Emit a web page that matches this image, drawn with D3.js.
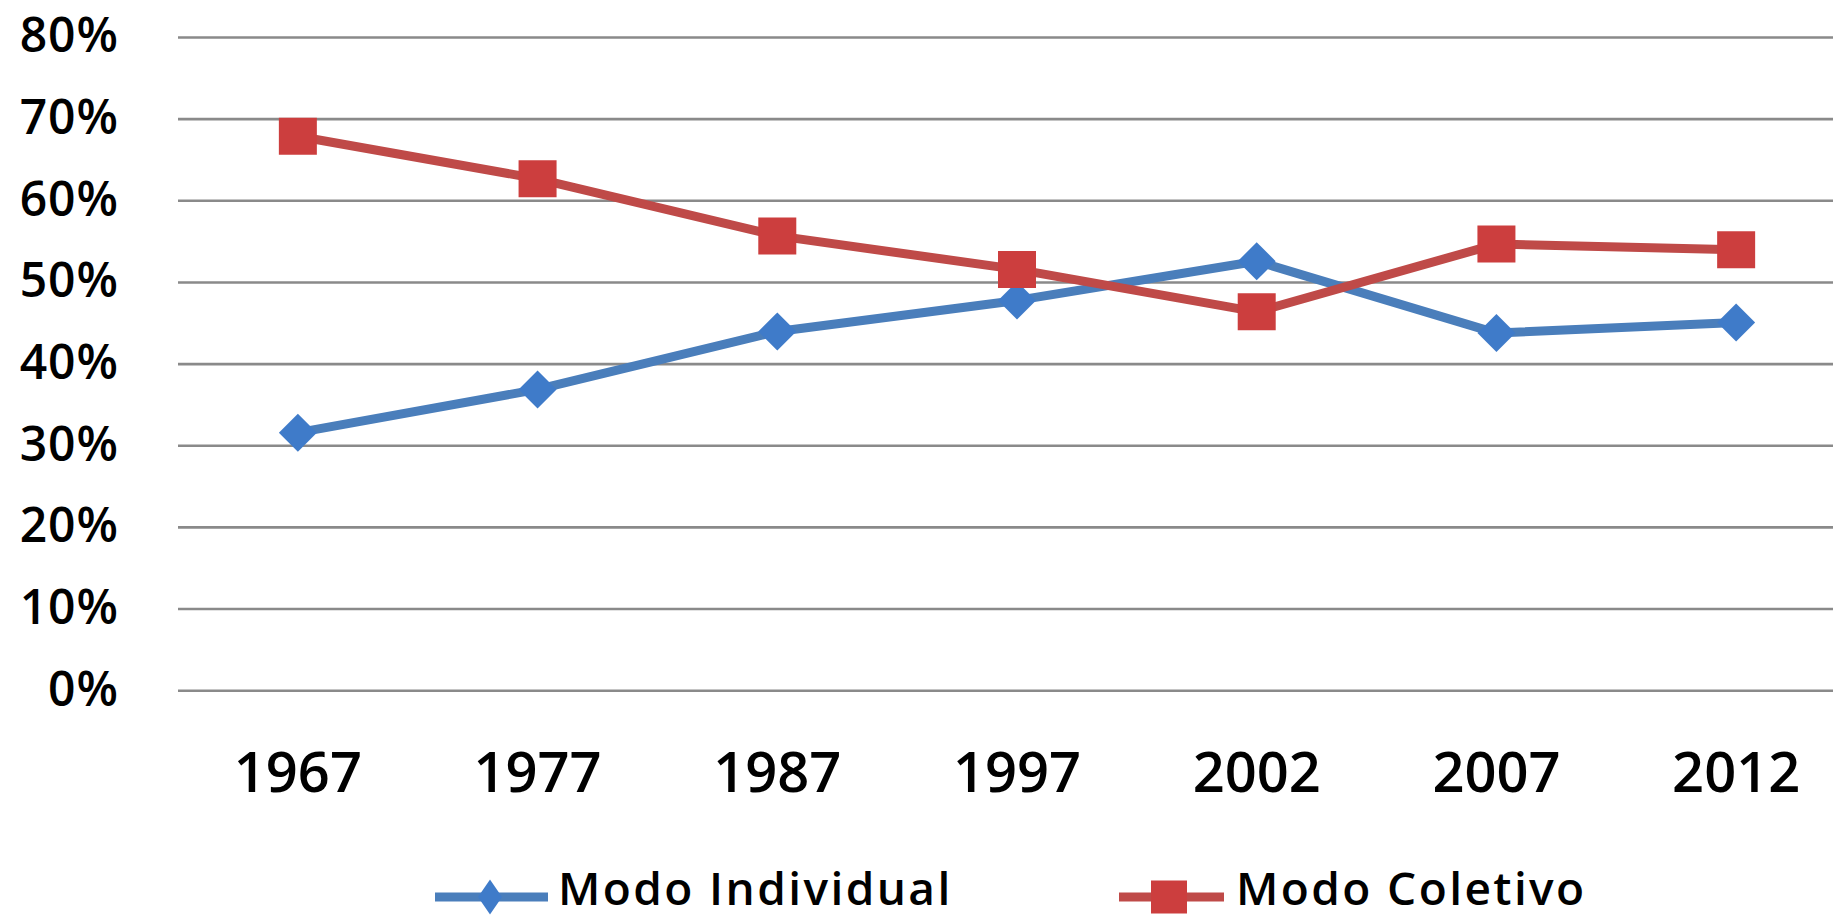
<!DOCTYPE html>
<html>
<head>
<meta charset="utf-8">
<script src="https://cdn.jsdelivr.net/npm/d3@7"></script>
<style>
  html, body { margin: 0; padding: 0; background: #fff; }
  svg { display: block; }
</style>
</head>
<body>
<svg id="chart" width="1833" height="920"></svg>
<script>
// ---- data ----
const years = ["1967", "1977", "1987", "1997", "2002", "2007", "2012"];
const modoIndividual = [31.6, 36.9, 44.0, 47.8, 52.6, 43.8, 45.1];
const modoColetivo = [67.9, 62.7, 55.7, 51.6, 46.4, 54.7, 54.0];
const yTicks = [0, 10, 20, 30, 40, 50, 60, 70, 80];
const seriesNames = ["Modo Individual", "Modo Coletivo"];

// ---- layout ----
const W = 1833, H = 920;
const svg = d3.select("#chart");
const x = d3.scaleBand().domain(years).range([178, 1856]).padding(0);
const y = d3.scaleLinear().domain([0, 80]).range([690.7, 37.5]);
const cx = d => x(d) + x.bandwidth() / 2;

const blue = "#4a7ebb", blueMark = "#3f7bc9";
const red = "#bf4a48", redMark = "#cc3e3e";

// gridlines
svg.append("g")
  .selectAll("line").data(yTicks).join("line")
  .attr("x1", 178).attr("x2", W)
  .attr("y1", d => y(d)).attr("y2", d => y(d))
  .attr("stroke", "#8a8a8a").attr("stroke-width", 2.6);

// y axis labels
const yAxis = d3.axisLeft(y).tickValues(yTicks).tickFormat(d => d + "%").tickSize(0).tickPadding(0);
const yg = svg.append("g").attr("transform", "translate(119,0)").call(yAxis);
yg.select(".domain").remove();
yg.selectAll("text")
  .attr("font-family", "'Open Sans', sans-serif")
  .attr("font-weight", 600)
  .attr("font-size", 48)
  .attr("letter-spacing", 1)
  .attr("fill", "#000")
  .attr("dy", "0.3em");

// x axis labels
const xAxis = d3.axisBottom(x).tickSize(0).tickPadding(0);
const xg = svg.append("g").attr("transform", "translate(0,792)").call(xAxis);
xg.select(".domain").remove();
xg.selectAll("text")
  .attr("font-family", "'Open Sans', sans-serif")
  .attr("font-weight", 600)
  .attr("font-size", 56)
  .attr("fill", "#000")
  .attr("dy", 0)
  .attr("y", 0);

// series
const series = [
  { name: seriesNames[0], values: modoIndividual, color: blue, mark: blueMark, shape: "diamond" },
  { name: seriesNames[1], values: modoColetivo, color: red, mark: redMark, shape: "square" }
];

function markerPath(shape, hw, hh) {
  if (shape === "diamond") {
    return `M0,${-hh}L${hw},0L0,${hh}L${-hw},0Z`;
  }
  return `M${-hw},${-hh}H${hw}V${hh}H${-hw}Z`;
}

const line = d3.line().x(d => cx(d.year)).y(d => y(d.v));

series.forEach(s => {
  const pts = years.map((yr, i) => ({ year: yr, v: s.values[i] }));
  const g = svg.append("g");
  g.append("path").datum(pts)
    .attr("d", line)
    .attr("fill", "none")
    .attr("stroke", s.color)
    .attr("stroke-width", 9)
    .attr("stroke-linejoin", "round");
  g.selectAll("path.m").data(pts).join("path")
    .attr("class", "m")
    .attr("transform", d => `translate(${cx(d.year)},${y(d.v)})`)
    .attr("d", s.shape === "diamond" ? markerPath("diamond", 19, 19) : markerPath("square", 19, 18.5))
    .attr("fill", s.mark);
});

// legend
const legendPos = [
  { x0: 435, x1: 548, mx: 490, tx: 558 },
  { x0: 1119, x1: 1224, mx: 1169, tx: 1236 }
];
const legendY = 897;
series.forEach((s, i) => {
  const p = legendPos[i];
  const g = svg.append("g");
  g.append("line")
    .attr("x1", p.x0).attr("x2", p.x1)
    .attr("y1", legendY).attr("y2", legendY)
    .attr("stroke", s.color).attr("stroke-width", 9);
  g.append("path")
    .attr("transform", `translate(${p.mx},${legendY})`)
    .attr("d", s.shape === "diamond" ? markerPath("diamond", 12, 17.5) : markerPath("square", 18, 16.5))
    .attr("fill", s.mark);
  g.append("text")
    .attr("x", p.tx).attr("y", 905)
    .attr("font-family", "'Open Sans', sans-serif")
    .attr("font-weight", 600)
    .attr("font-size", 46)
    .attr("letter-spacing", 2.4)
    .attr("fill", "#000")
    .text(s.name);
});
</script>
</body>
</html>
